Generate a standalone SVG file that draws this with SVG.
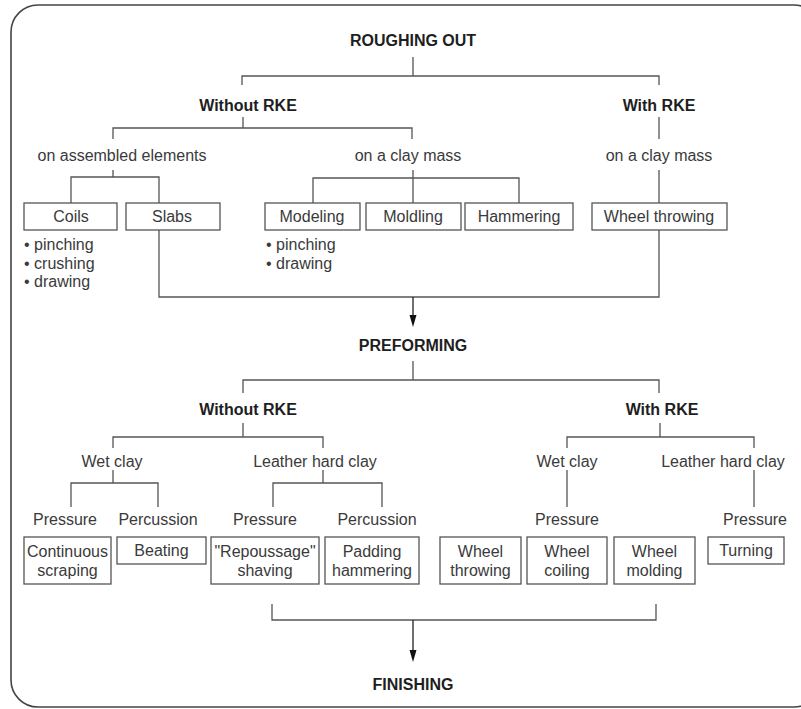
<svg xmlns="http://www.w3.org/2000/svg" width="801" height="709" viewBox="0 0 801 709">
<defs>
<style>
.t{font-family:"Liberation Sans",Arial,sans-serif;font-size:16px;fill:#3a3a3a;text-anchor:middle}
.b{font-family:"Liberation Sans",Arial,sans-serif;font-size:16px;font-weight:bold;fill:#1e1e1e;text-anchor:middle}
.l{text-anchor:start}
.box{fill:#fff;stroke:#555;stroke-width:1.3}
.c{fill:none;stroke:#555;stroke-width:1.3}
.a{fill:none;stroke:#222;stroke-width:1.3}
</style>
<marker id="ah" markerUnits="userSpaceOnUse" markerWidth="8" markerHeight="13" refX="4" refY="12" orient="auto-start-reverse" viewBox="0 0 8 13">
<path d="M0,0 L8,0 L4,12 Z" fill="#111" transform="rotate(-90 4 6.5) translate(-2.5 2.5)"/>
</marker>
</defs>
<rect x="11" y="5" width="810" height="702" rx="27" ry="27" fill="#fff" stroke="#444" stroke-width="1.6"/>

<g id="connectors">
<path class="c" d="M413,57 V76 M242,85 V76 H659 V85"/>
<path class="c" d="M243,117 V128 M113,139 V128 H412 V139"/>
<path class="c" d="M659,117 V139"/>
<path class="c" d="M113,170 V177 M71,203 V177 H159 V203"/>
<path class="c" d="M413,170 V203 M313,203 V178 H519 V203"/>
<path class="c" d="M659,170 V203"/>
<path class="c" d="M159,230 V297 H659 V230"/>
<path class="a" d="M413,297 V315"/>
<path d="M409.5,315 L416.5,315 L413,327 Z" fill="#111"/>
<path class="c" d="M413,361 V380 M243,393 V380 H659 V393"/>
<path class="c" d="M243,423 V437 M113,448 V437 H323 V448"/>
<path class="c" d="M660,423 V437 M567,448 V437 H754 V448"/>
<path class="c" d="M113,470 V483 M71,507 V483 H158 V507"/>
<path class="c" d="M323,470 V483 M273,507 V483 H382 V507"/>
<path class="c" d="M567,470 V507"/>
<path class="c" d="M754,470 V507"/>
<path class="c" d="M272,604 V620 H656 V604"/>
<path class="a" d="M413,620 V650"/>
<path d="M409.5,650 L416.5,650 L413,662 Z" fill="#111"/>
</g>

<g id="roughing-out"><text class="b" x="413" y="46">ROUGHING OUT</text></g>
<g id="ro-without-rke"><text class="b" x="248" y="111">Without RKE</text></g>
<g id="ro-with-rke"><text class="b" x="659" y="111">With RKE</text></g>
<g id="on-assembled"><text class="t" x="122" y="161">on assembled elements</text></g>
<g id="on-clay-mass-1"><text class="t" x="408" y="161">on a clay mass</text></g>
<g id="on-clay-mass-2"><text class="t" x="659" y="161">on a clay mass</text></g>

<g id="coils"><rect class="box" x="24" y="203" width="93" height="27"/><text class="t" x="71" y="222">Coils</text></g>
<g id="slabs"><rect class="box" x="126" y="203" width="94" height="27"/><text class="t" x="172" y="222">Slabs</text></g>
<g id="modeling"><rect class="box" x="265" y="203" width="95" height="27"/><text class="t" x="312" y="222">Modeling</text></g>
<g id="moldling"><rect class="box" x="366" y="203" width="95" height="27"/><text class="t" x="413" y="222">Moldling</text></g>
<g id="hammering"><rect class="box" x="465" y="203" width="108" height="27"/><text class="t" x="519" y="222">Hammering</text></g>
<g id="wheel-throwing-1"><rect class="box" x="592" y="203" width="135" height="27"/><text class="t" x="659" y="222">Wheel throwing</text></g>

<g id="coils-list">
<text class="t l" x="24" y="250">• pinching</text>
<text class="t l" x="24" y="268.5">• crushing</text>
<text class="t l" x="24" y="287">• drawing</text>
</g>
<g id="modeling-list">
<text class="t l" x="266" y="250">• pinching</text>
<text class="t l" x="266" y="268.5">• drawing</text>
</g>

<g id="preforming"><text class="b" x="413" y="351">PREFORMING</text></g>
<g id="pf-without-rke"><text class="b" x="248" y="415">Without RKE</text></g>
<g id="pf-with-rke"><text class="b" x="662" y="415">With RKE</text></g>
<g id="wet-clay-1"><text class="t" x="112" y="467">Wet clay</text></g>
<g id="leather-1"><text class="t" x="315" y="467">Leather hard clay</text></g>
<g id="wet-clay-2"><text class="t" x="567" y="467">Wet clay</text></g>
<g id="leather-2"><text class="t" x="723" y="467">Leather hard clay</text></g>

<g id="pressure-1"><text class="t" x="65" y="525">Pressure</text></g>
<g id="percussion-1"><text class="t" x="158" y="525">Percussion</text></g>
<g id="pressure-2"><text class="t" x="265" y="525">Pressure</text></g>
<g id="percussion-2"><text class="t" x="377" y="525">Percussion</text></g>
<g id="pressure-3"><text class="t" x="567" y="525">Pressure</text></g>
<g id="pressure-4"><text class="t" x="755" y="525">Pressure</text></g>

<g id="continuous-scraping"><rect class="box" x="24" y="537" width="87" height="47"/><text class="t" x="67.5" y="557">Continuous</text><text class="t" x="67.5" y="576">scraping</text></g>
<g id="beating"><rect class="box" x="117" y="537" width="89" height="27"/><text class="t" x="161.5" y="556">Beating</text></g>
<g id="repoussage"><rect class="box" x="211" y="537" width="108" height="47"/><text class="t" x="265" y="557">"Repoussage"</text><text class="t" x="265" y="576">shaving</text></g>
<g id="padding"><rect class="box" x="325" y="537" width="94" height="47"/><text class="t" x="372" y="557">Padding</text><text class="t" x="372" y="576">hammering</text></g>
<g id="wheel-throwing-2"><rect class="box" x="440" y="537" width="81" height="47"/><text class="t" x="480.5" y="557">Wheel</text><text class="t" x="480.5" y="576">throwing</text></g>
<g id="wheel-coiling"><rect class="box" x="527" y="537" width="80" height="47"/><text class="t" x="567" y="557">Wheel</text><text class="t" x="567" y="576">coiling</text></g>
<g id="wheel-molding"><rect class="box" x="614" y="537" width="81" height="47"/><text class="t" x="654.5" y="557">Wheel</text><text class="t" x="654.5" y="576">molding</text></g>
<g id="turning"><rect class="box" x="708" y="537" width="76" height="27"/><text class="t" x="746" y="556">Turning</text></g>

<g id="finishing"><text class="b" x="413" y="690">FINISHING</text></g>
</svg>
